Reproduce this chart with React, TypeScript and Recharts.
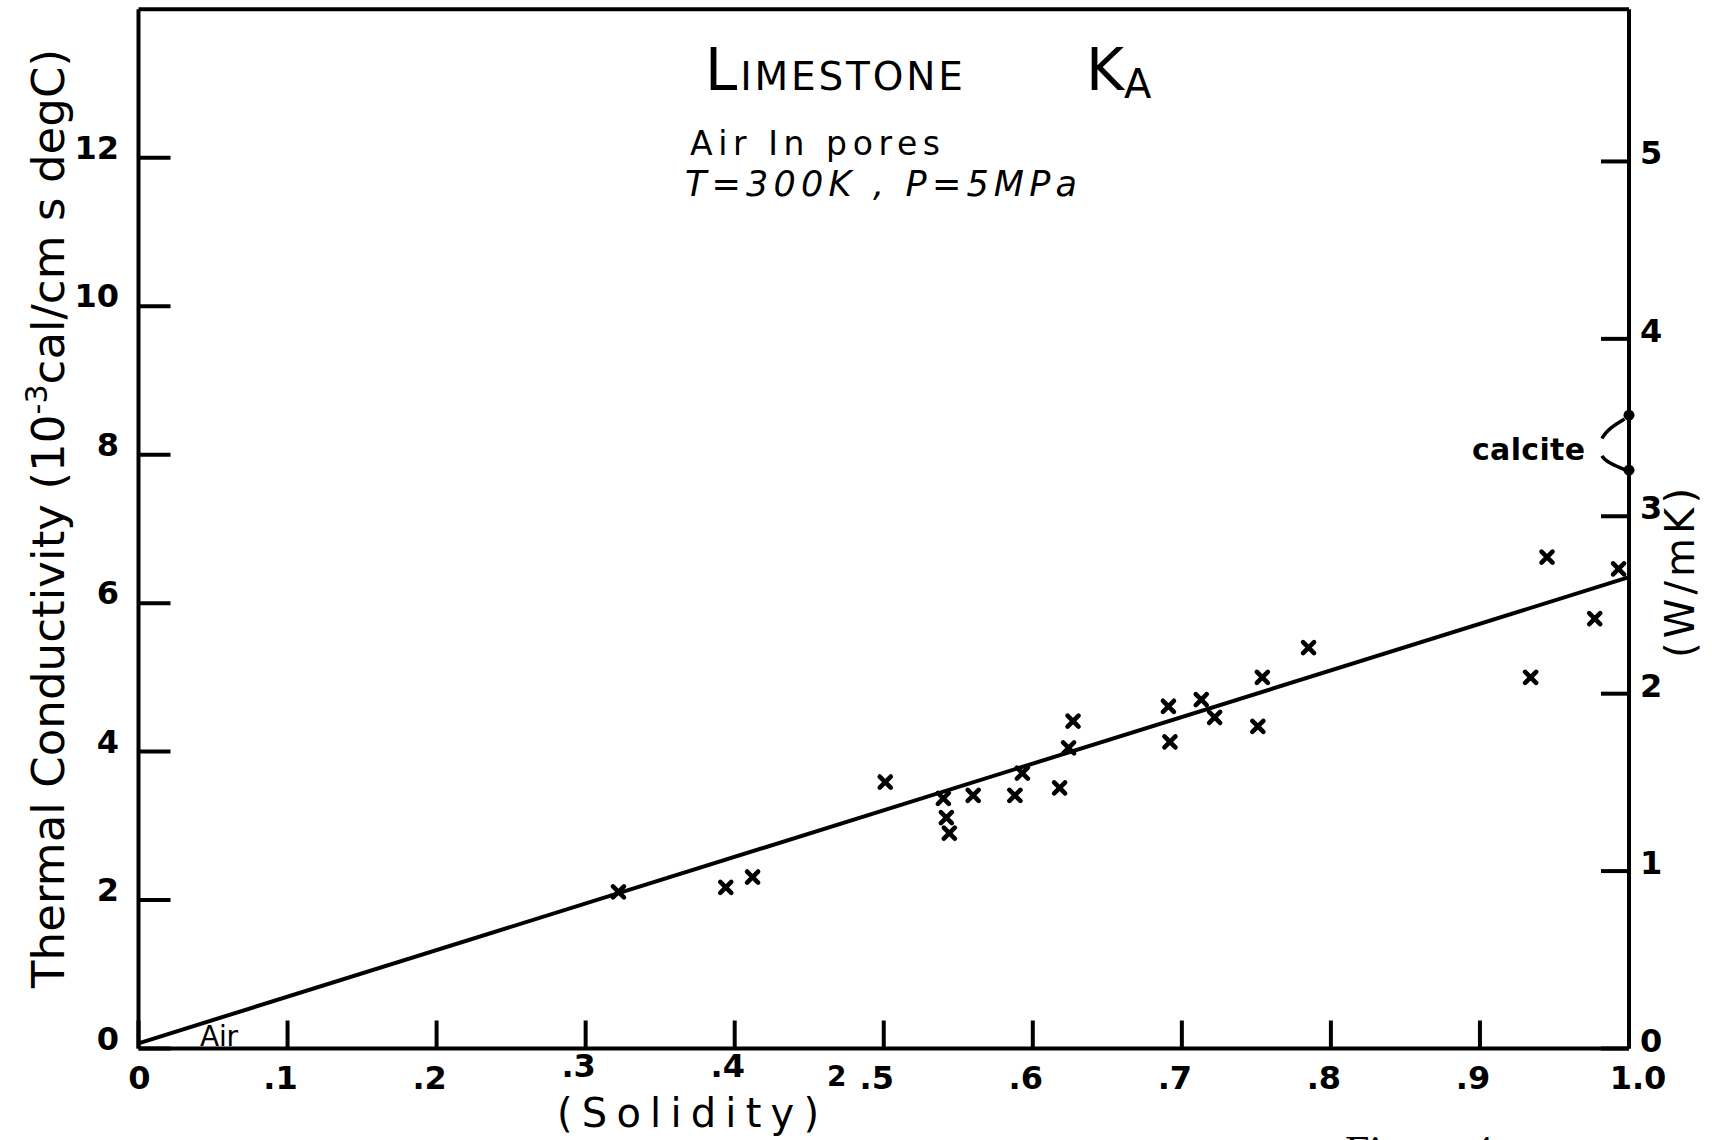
import { ScatterChart, Scatter, XAxis, YAxis, ReferenceLine, Label } from "recharts";

// x: (solidity)^2, y: thermal conductivity in 10^-3 cal/cm s degC
const solidity2 = [
  0.322, 0.394, 0.412, 0.501, 0.54, 0.542, 0.544, 0.56, 0.588, 0.593, 0.618, 0.624,
  0.627, 0.691, 0.692, 0.713, 0.722, 0.751, 0.754, 0.785, 0.934, 0.945, 0.977, 0.993,
];
const conductivity = [
  2.11, 2.17, 2.31, 3.59, 3.37, 3.11, 2.9, 3.41, 3.41, 3.71, 3.51, 4.05,
  4.41, 4.61, 4.13, 4.7, 4.46, 4.34, 5.0, 5.4, 5.0, 6.62, 5.79, 6.46,
];

// fitted line end points
const fitX = [0, 1.0];
const fitY = [0.07, 6.35];

// calcite range, W/mK (right axis)
const calciteX = [1.0, 1.0];
const calciteWmK = [3.57, 3.26];

// dashed bracket next to the calcite label
const bracketX = [0.997, 0.988, 0.9815, 0.9805, 0.9815, 0.988, 0.997];
const bracketY = [8.48, 8.36, 8.2, 8.1, 8.0, 7.88, 7.8];

const xTicks = [0, 0.1, 0.2, 0.3, 0.4, 0.5, 0.6, 0.7, 0.8, 0.9, 1.0];
const xTickLabels = ["0", ".1", ".2", ".3", ".4", ".5", ".6", ".7", ".8", ".9", "1.0"];
const topTicks = [0.1, 0.2, 0.3, 0.4, 0.5, 0.6, 0.7, 0.8, 0.9];
const leftTicks = [0, 2, 4, 6, 8, 10, 12];
const rightTicks = [0, 1, 2, 3, 4, 5];

const CAL_TO_WMK = 0.4184;
const Y_MAX = 14;

const points = solidity2.map((x, i) => ({ x, y: conductivity[i] }));
const bracket = bracketX.map((x, i) => ({ x, y: bracketY[i] }));
const calcite = calciteX.map((x, i) => ({ x, y: calciteWmK[i] }));

const FONT = "'DejaVu Sans', sans-serif";
const INK = "#000";

const Cross = (props: any) => {
  const { cx, cy } = props;
  if (cx == null || cy == null) return null;
  const s = 5.5;
  return (
    <path
      d={`M${cx - s},${cy - s}L${cx + s},${cy + s}M${cx + s},${cy - s}L${cx - s},${cy + s}`}
      stroke={INK}
      strokeWidth={4.6}
      strokeLinecap="round"
    />
  );
};

const Dot = (props: any) => {
  const { cx, cy } = props;
  if (cx == null || cy == null) return null;
  return <circle cx={cx} cy={cy} r={5.5} fill={INK} />;
};

const Nothing = () => <g />;

const BottomTick = (props: any) => {
  const { x, y, payload } = props;
  const i = xTicks.findIndex((t) => Math.abs(t - payload.value) < 1e-6);
  const label = xTickLabels[i] ?? String(payload.value);
  let dx = -7;
  let dy = 0;
  if (label === "0") dx = 1;
  if (label === "1.0") dx = 9;
  // the hand-lettered .3 and .4 sit a little higher, clear of the axis title
  if (label === ".3" || label === ".4") dy = -12;
  return (
    <text x={x + dx} y={y + 23 + dy} textAnchor="middle" fontFamily={FONT} fontWeight="bold" fontSize={32} fill={INK}>
      {label}
    </text>
  );
};

const LeftTick = (props: any) => {
  const { x, y, payload } = props;
  return (
    <text x={x} y={y + 1} textAnchor="end" fontFamily={FONT} fontWeight="bold" fontSize={32} fill={INK}>
      {payload.value}
    </text>
  );
};

const RightTick = (props: any) => {
  const { x, y, payload } = props;
  return (
    <text x={x} y={y + 3} textAnchor="start" fontFamily={FONT} fontWeight="bold" fontSize={32} fill={INK}>
      {payload.value}
    </text>
  );
};

const axisLine = { stroke: INK, strokeWidth: 4 };
const tickLine = { stroke: INK, strokeWidth: 4 };

export default function App() {
  return (
    <div style={{ position: "absolute", left: 0, top: 0, width: 1712, height: 1140, background: "#fff", overflow: "hidden" }}>
      <ScatterChart width={1712} height={1140} margin={{ top: 0, right: 0, bottom: 0, left: 0 }}>
        <XAxis
          xAxisId="bottom"
          type="number"
          dataKey="x"
          domain={[0, 1]}
          ticks={xTicks}
          interval={0}
          height={91.5}
          axisLine={axisLine}
          tickLine={tickLine}
          tickSize={-28}
          tickMargin={45.5}
          tick={BottomTick}
        >
          <Label
            content={() => (
              <g>
                <text x={557} y={1127} fontFamily={FONT} fontSize={40} fill={INK} textLength={262} lengthAdjust="spacing">
                  (Solidity)
                </text>
                <text x={827} y={1086} fontFamily={FONT} fontSize={28} fontWeight="bold" fill={INK}>
                  2
                </text>
              </g>
            )}
          />
        </XAxis>
        <XAxis
          xAxisId="top"
          orientation="top"
          type="number"
          dataKey="x"
          domain={[0, 1]}
          ticks={topTicks}
          interval={0}
          height={9.3}
          axisLine={axisLine}
          tickLine={tickLine}
          tickSize={-32}
          tick={false}
        />
        <YAxis
          yAxisId="left"
          type="number"
          dataKey="y"
          domain={[0, Y_MAX]}
          ticks={leftTicks}
          interval={0}
          width={138.5}
          axisLine={axisLine}
          tickLine={tickLine}
          tickSize={-32}
          tickMargin={51.5}
          tick={LeftTick}
        >
          <Label
            content={() => (
              <text
                transform="translate(64, 518.5) rotate(-90)"
                textAnchor="middle"
                fontFamily={FONT}
                fontSize={45}
                fill={INK}
                textLength={939}
                lengthAdjust="spacing"
              >
                Thermal Conductivity (10
                <tspan fontSize={30} dy={-17}>-3</tspan>
                <tspan dy={17}>cal/cm s degC)</tspan>
              </text>
            )}
          />
        </YAxis>
        <YAxis
          yAxisId="right"
          orientation="right"
          type="number"
          dataKey="y"
          domain={[0, Y_MAX * CAL_TO_WMK]}
          ticks={rightTicks}
          interval={0}
          width={83}
          axisLine={axisLine}
          tickLine={tickLine}
          tickSize={-28}
          tickMargin={39}
          tick={RightTick}
        >
          <Label
            content={() => (
              <text
                transform="translate(1694, 573) rotate(-90)"
                textAnchor="middle"
                fontFamily={FONT}
                fontSize={40}
                fill={INK}
                textLength={170}
                lengthAdjust="spacing"
              >
                (W/mK)
              </text>
            )}
          />
        </YAxis>

        <ReferenceLine
          xAxisId="bottom"
          yAxisId="left"
          segment={[
            { x: fitX[0], y: fitY[0] },
            { x: fitX[1], y: fitY[1] },
          ]}
          stroke={INK}
          strokeWidth={4}
        />

        <Scatter
          xAxisId="bottom"
          yAxisId="left"
          data={bracket}
          line={{ stroke: INK, strokeWidth: 3.5, strokeDasharray: "30 18" }}
          lineJointType="monotoneY"
          shape={Nothing}
          isAnimationActive={false}
        />
        <Scatter xAxisId="top" yAxisId="right" data={calcite} shape={Dot} isAnimationActive={false} />
        <Scatter xAxisId="bottom" yAxisId="left" data={points} shape={Cross} isAnimationActive={false} />
      </ScatterChart>

      <svg width={1712} height={1140} style={{ position: "absolute", left: 0, top: 0, pointerEvents: "none" }}>
        <text x={705} y={90} fontFamily={FONT} fontSize={58} fill={INK} textLength={258} lengthAdjust="spacing">
          L<tspan fontSize={39}>IMESTONE</tspan>
        </text>
        <text x={1086} y={90} fontFamily={FONT} fontSize={58} fill={INK}>
          K<tspan fontSize={40} dy={8}>A</tspan>
        </text>
        <text x={690} y={155} fontFamily={FONT} fontSize={33} fill={INK} textLength={250} lengthAdjust="spacing">
          Air In pores
        </text>
        <text x={685} y={196} fontFamily={FONT} fontSize={35} fontStyle="italic" fill={INK} textLength={392} lengthAdjust="spacing">
          T=300K , P=5MPa
        </text>
        <text x={1472} y={460} fontFamily={FONT} fontSize={30} fontWeight="bold" fill={INK} textLength={113} lengthAdjust="spacing">
          calcite
        </text>
        <text x={200} y={1046} fontFamily={FONT} fontSize={28} fill={INK} textLength={38} lengthAdjust="spacing">
          Air
        </text>
        <text x={1345} y={1166} fontFamily="'Liberation Serif', serif" fontSize={44} fill={INK}>
          Figure 4
        </text>
      </svg>
    </div>
  );
}
